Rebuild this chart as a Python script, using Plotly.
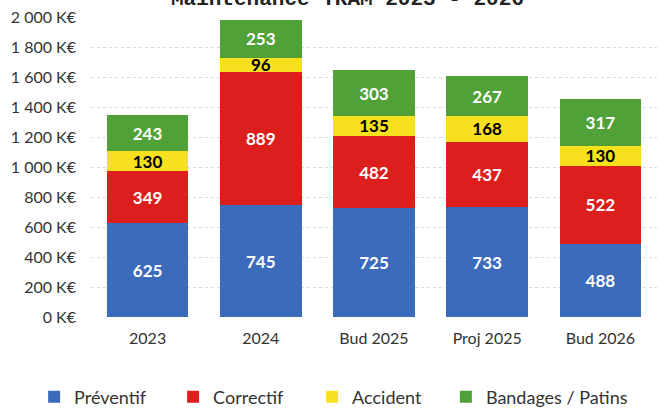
import plotly.graph_objects as go

categories = ["2023", "2024", "Bud 2025", "Proj 2025", "Bud 2026"]
preventif = [625, 745, 725, 733, 488]
correctif = [349, 889, 482, 437, 522]
accident = [130, 96, 135, 168, 130]
bandages = [243, 253, 303, 267, 317]

series_names = ["Préventif", "Correctif", "Accident", "Bandages / Patins"]
series_values = [preventif, correctif, accident, bandages]
colors = ["#3D6BBC", "#DC1F1D", "#F7E11E", "#4FA138"]
text_colors = ["white", "white", "black", "white"]
legend_ids = ["legend", "legend", "legend", "legend2"]

ytick_vals = [0, 200, 400, 600, 800, 1000, 1200, 1400, 1600, 1800, 2000]
ytick_text = ["0 K€", "200 K€", "400 K€", "600 K€", "800 K€", "1 000 K€",
              "1 200 K€", "1 400 K€", "1 600 K€", "1 800 K€", "2 000 K€"]

FONT = "Lato, 'Open Sans', sans-serif"

fig = go.Figure()
for name, vals, col, tcol, lg in zip(series_names, series_values, colors, text_colors, legend_ids):
    fig.add_trace(go.Bar(
        x=categories, y=vals, name=name, legend=lg,
        marker=dict(color=col, line=dict(width=0)),
        text=[str(v) for v in vals],
        textposition="inside", insidetextanchor="middle", textangle=0,
        textfont=dict(family=FONT, size=17, color=tcol, weight="bold"),
        constraintext="none",
    ))

legend_font = dict(family=FONT, size=18, color="#333333")
fig.update_layout(
    barmode="stack",
    bargap=0.28,
    width=661, height=409,
    margin=dict(l=91, r=4, t=17, b=92, autoexpand=False),
    paper_bgcolor="white", plot_bgcolor="white",
    font=dict(family=FONT, size=16, color="#333333"),
    uniformtext=dict(minsize=17, mode="show"),
    legend=dict(orientation="h", x=-0.1005, xanchor="left", y=-0.267, yanchor="middle",
                font=legend_font, entrywidth=94, itemwidth=30, traceorder="normal"),
    legend2=dict(orientation="h", x=0.627, xanchor="left", y=-0.267, yanchor="middle",
                 font=legend_font, itemwidth=30),
    showlegend=True,
)
fig.add_annotation(
    text="<b>Maintenance TRAM 2023 - 2026</b>",
    xref="paper", yref="paper", x=0.453, y=1.057,
    xanchor="center", yanchor="middle", showarrow=False,
    font=dict(family="'Liberation Mono', 'DejaVu Sans Mono', monospace", size=21, color="#222222"),
)
fig.update_yaxes(range=[0, 2001], tickvals=ytick_vals, ticktext=ytick_text,
                 showgrid=True, gridcolor="#DADADA", gridwidth=1, griddash="dot",
                 zeroline=False, showline=False, ticks="", ticklabelstandoff=14,
                 automargin=False,
                 tickfont=dict(family=FONT, size=16, color="#333333"))
fig.update_xaxes(showgrid=False, showline=False, ticks="", ticklabelstandoff=10,
                 automargin=False,
                 tickfont=dict(family=FONT, size=16, color="#333333"))

fig.write_html("out.html", config={"displayModeBar": False},
               post_script="document.body.style.margin='0';")
